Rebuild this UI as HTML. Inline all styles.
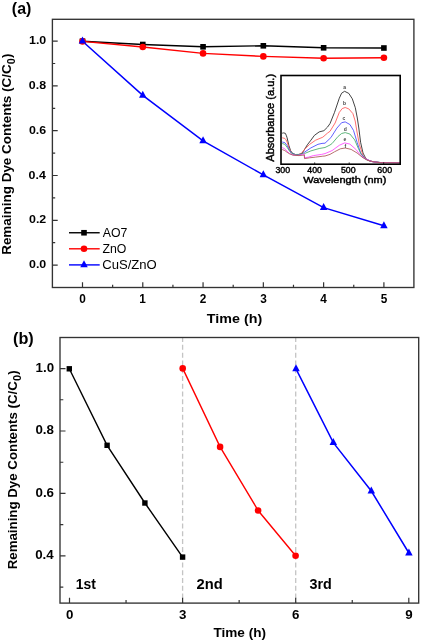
<!DOCTYPE html>
<html><head><meta charset="utf-8"><title>Figure</title><style>
html,body{margin:0;padding:0;background:#fff;}
body{width:421px;height:643px;overflow:hidden;}
svg{display:block;will-change:transform;}
text{font-family:"Liberation Sans",sans-serif;fill:#000;}
.pl{font-size:15px;font-weight:bold;}
.ta{font-size:11.6px;font-weight:bold;}
.tb{font-size:12.6px;font-weight:bold;}
.at{font-size:13.8px;font-weight:bold;}
.sub{font-size:9.5px;}
.lg{font-size:12.3px;}
.cy{font-size:14.6px;font-weight:bold;}
.it{font-size:9px;stroke:#000;stroke-width:0.4px;}
.ia{font-size:10.2px;fill:#000;stroke:#000;stroke-width:0.45px;}
.cl{font-size:5px;font-weight:bold;fill:#444;}
</style></head>
<body><svg width="421" height="643" viewBox="0 0 421 643">
<text transform="translate(11.85,13.6) scale(1.0115,1)" class="pl" style="font-size:15.80px">(a)</text>
<rect x="52.4" y="19.3" width="361.5" height="268.2" fill="none" stroke="#333" stroke-width="1.35"/>
<path d="M82.5 287.5V282.2M142.78 287.5V282.2M203.06 287.5V282.2M263.34 287.5V282.2M323.62 287.5V282.2M383.9 287.5V282.2M112.64 287.5V284.7M172.92 287.5V284.7M233.2 287.5V284.7M293.48 287.5V284.7M353.76 287.5V284.7M52.4 265.1H57.7M52.4 220.3H57.7M52.4 175.5H57.7M52.4 130.7H57.7M52.4 85.9H57.7M52.4 41.1H57.7M52.4 242.7H55.2M52.4 197.9H55.2M52.4 153.1H55.2M52.4 108.3H55.2M52.4 63.5H55.2" stroke="#333" stroke-width="1.2" fill="none"/>
<text transform="translate(28.99,268.25) scale(1.0700,1)" class="ta" style="font-size:11.60px">0.0</text>
<text transform="translate(28.99,223.45) scale(1.0700,1)" class="ta" style="font-size:11.60px">0.2</text>
<text transform="translate(28.56,178.65) scale(1.0700,1)" class="ta" style="font-size:11.60px">0.4</text>
<text transform="translate(28.93,133.85) scale(1.0700,1)" class="ta" style="font-size:11.60px">0.6</text>
<text transform="translate(28.87,89.05) scale(1.0700,1)" class="ta" style="font-size:11.60px">0.8</text>
<text transform="translate(28.99,44.25) scale(1.0700,1)" class="ta" style="font-size:11.60px">1.0</text>
<text transform="translate(79.27,302.55) scale(0.9700,1)" class="ta" style="font-size:12.20px">0</text>
<text transform="translate(139.34,302.55) scale(0.9700,1)" class="ta" style="font-size:12.20px">1</text>
<text transform="translate(199.86,302.55) scale(0.9700,1)" class="ta" style="font-size:12.20px">2</text>
<text transform="translate(260.17,302.55) scale(0.9700,1)" class="ta" style="font-size:12.20px">3</text>
<text transform="translate(320.33,302.55) scale(0.9700,1)" class="ta" style="font-size:12.20px">4</text>
<text transform="translate(380.64,302.55) scale(0.9700,1)" class="ta" style="font-size:12.20px">5</text>
<text transform="translate(206.81,323.28) scale(1.1239,1)" class="at" style="font-size:12.73px">Time (h)</text>
<g transform="translate(11.1,254.82) rotate(-90) scale(1.0434,1)" class="at"><text x="0" y="0" style="font-size:12.90px">Remaining Dye Contents (C/C</text><text x="182.77" y="3.9" style="font-size:10.40px">0</text><text x="188.55" y="0" style="font-size:12.90px">)</text></g>
<polyline points="82.5,41.2 142.78,44.5 203.06,46.8 263.34,45.8 323.62,47.8 383.9,48" fill="none" stroke="#000" stroke-width="1.4"/>
<polyline points="82.5,41.4 142.78,47 203.06,53.4 263.34,56.4 323.62,58.2 383.9,57.7" fill="none" stroke="#f00" stroke-width="1.4"/>
<polyline points="82.5,41.2 142.78,95.4 203.06,140.8 263.34,174.9 323.62,207.6 383.9,225.8" fill="none" stroke="#00f" stroke-width="1.5"/>
<rect x="79.7" y="38.4" width="5.6" height="5.6" fill="#000"/>
<rect x="139.98" y="41.7" width="5.6" height="5.6" fill="#000"/>
<rect x="200.26" y="44" width="5.6" height="5.6" fill="#000"/>
<rect x="260.54" y="43" width="5.6" height="5.6" fill="#000"/>
<rect x="320.82" y="45" width="5.6" height="5.6" fill="#000"/>
<rect x="381.1" y="45.2" width="5.6" height="5.6" fill="#000"/>
<circle cx="82.5" cy="41.4" r="3.3" fill="#f00"/>
<circle cx="142.78" cy="47" r="3.3" fill="#f00"/>
<circle cx="203.06" cy="53.4" r="3.3" fill="#f00"/>
<circle cx="263.34" cy="56.4" r="3.3" fill="#f00"/>
<circle cx="323.62" cy="58.2" r="3.3" fill="#f00"/>
<circle cx="383.9" cy="57.7" r="3.3" fill="#f00"/>
<polygon points="82.5,36.6 86.25,43.6 78.75,43.6" fill="#00f"/>
<polygon points="142.78,90.8 146.53,97.8 139.03,97.8" fill="#00f"/>
<polygon points="203.06,136.2 206.81,143.2 199.31,143.2" fill="#00f"/>
<polygon points="263.34,170.3 267.09,177.3 259.59,177.3" fill="#00f"/>
<polygon points="323.62,203 327.37,210 319.87,210" fill="#00f"/>
<polygon points="383.9,221.2 387.65,228.2 380.15,228.2" fill="#00f"/>
<path d="M69 232.75H99.7" stroke="#000" stroke-width="1.4"/>
<rect x="81.2" y="229.95" width="5.6" height="5.6" fill="#000"/>
<text transform="translate(102.79,236.6) scale(0.9550,1)" class="lg" style="font-size:12.90px">AO7</text>
<path d="M69 248.8H99.7" stroke="#f00" stroke-width="1.4"/>
<circle cx="84" cy="248.8" r="3.3" fill="#f00"/>
<text transform="translate(102.48,252.7) scale(0.9550,1)" class="lg" style="font-size:12.90px">ZnO</text>
<path d="M69 264.9H99.7" stroke="#00f" stroke-width="1.4"/>
<polygon points="84,260.3 87.75,267.3 80.25,267.3" fill="#00f"/>
<text transform="translate(102.2,268.8) scale(1.0150,1)" class="lg" style="font-size:12.90px">CuS/ZnO</text>
<polyline points="282.2,133.2 283.5,132.9 285.3,133.3 286.2,135.2 287.1,137.8 288.9,145.5 290.7,150.9 293.1,153.8 295.5,154.5 297.8,154.7 300,154.3 302,153.3 303.8,150.6 305.5,147.8 307.3,144.9 310.9,140.2 314.4,135.4 319.2,131.9 323.9,130.7 327.5,127.1 330,123.6 334.5,112.4 339.3,98.2 341.6,93.2 344.6,91.3 348.8,93.4 352.3,98.8 355.3,107.7 357.3,118 358.8,128 360.6,142.3 363,153 366,158.9 369,160.8 373,161.8 380,162.5 399.5,162.6" fill="none" stroke="#222" stroke-width="0.85"/>
<polyline points="282.2,137.8 284.8,138.4 286,139.8 287.1,142 288.9,147.9 291.3,152.7 293.5,154.2 295.4,154.7 298.5,154.6 301.4,153.3 303,151.5 304.3,149.7 309.7,144.3 315.6,140.2 322.8,137.2 327.5,133.1 330,131.3 335.1,123 339.3,112.4 342.2,108.6 345.2,107.5 348.8,108.9 352.9,113.6 355.2,121 357,132 359.4,144.7 363,155.4 366.5,159.5 372,161.5 380,162.5 399.5,162.6" fill="none" stroke="#f55" stroke-width="0.85"/>
<polyline points="282.2,142 284.8,142.6 287.1,145.5 289.5,150.3 291.9,153.3 295.4,154.7 298.5,154.7 301.4,154.2 304.3,152.3 310.9,147.9 318,144.3 322,143.4 325,143.2 330.9,137.6 336.9,128.1 341.6,122.7 345.2,121.9 349.9,124.5 353.5,130.4 357.1,142.3 360.6,153 365.4,158.9 372,161.5 380,162.5 399.5,162.6" fill="none" stroke="#44f" stroke-width="0.85"/>
<polyline points="282.2,143.5 284.8,144.3 287.1,147.3 289.5,151.1 291.9,153.6 295.4,154.5 298.5,154.4 301.4,153.8 304.3,153 304.6,153.5 310.9,150.9 319.2,148.5 325,147.5 330,145 332.1,143.5 338.1,136.4 341.6,133.5 345.2,132.6 349.9,134 354.7,139.9 358.3,148.3 361.8,155.4 366,159.5 372,161.5 380,162.5 399.5,162.6" fill="none" stroke="#4a6" stroke-width="0.85"/>
<polyline points="282.2,147.6 284.2,148.5 287.1,151.1 289.5,153.5 293.1,155 297.8,155.4 302.6,154.4 304.3,153.8 304.5,157.8 308.5,157.1 313.3,155.6 321.6,154.4 325,153.6 332.1,150.6 339.3,145.3 344.6,142.9 349.9,144.1 355.9,149.4 360.6,155.4 365.4,158.9 372,161.6 380,162.6 399.5,162.7" fill="none" stroke="#f4f" stroke-width="0.85"/>
<polyline points="282.2,149.5 284.8,150.6 287.1,152.3 289.5,153.8 293.1,155.2 299,155.6 304.3,155 304.5,158.6 309.7,157.8 315.6,157.1 322.8,156.2 325,156 330,154.4 334.5,151.8 340.4,148.8 345.2,148 351.1,149.4 357.1,153 363,157.8 368,160.5 374,161.8 380,162.7 399.5,162.8" fill="none" stroke="#a55" stroke-width="0.85"/>
<rect x="281.0" y="75.5" width="119.2" height="88.7" fill="none" stroke="#000" stroke-width="1.6"/>
<path d="M314.7 164.2V162.4" stroke="#000" stroke-width="0.8"/>
<path d="M349.2 164.2V162.4" stroke="#000" stroke-width="0.8"/>
<path d="M383.7 164.2V162.4" stroke="#000" stroke-width="0.8"/>
<text x="344.6" y="89.2" class="cl" text-anchor="middle">a</text>
<text x="344.6" y="105.1" class="cl" text-anchor="middle">b</text>
<text x="344" y="120.2" class="cl" text-anchor="middle">c</text>
<text x="345.2" y="130.6" class="cl" text-anchor="middle">d</text>
<text x="345" y="141.2" class="cl" text-anchor="middle">e</text>
<text x="345.4" y="148" class="cl" text-anchor="middle">f</text>
<text transform="translate(275.43,172.57) scale(1.0754,1)" class="it" style="font-size:8.17px">300</text>
<text transform="translate(307.32,172.57) scale(1.0688,1)" class="it" style="font-size:8.17px">400</text>
<text transform="translate(340.89,172.57) scale(1.0788,1)" class="it" style="font-size:8.17px">500</text>
<text transform="translate(377.34,172.57) scale(1.0822,1)" class="it" style="font-size:8.17px">600</text>
<text transform="translate(303.3,183) scale(1.1550,1)" class="ia" style="font-size:9.50px">Wavelength (nm)</text>
<text transform="translate(273.65,161.71) rotate(-90) scale(1.0544,1)" class="ia" style="font-size:10.50px">Absorbance (a.u.)</text>
<text transform="translate(13.04,343.7) scale(1.0288,1)" class="pl" style="font-size:15.80px">(b)</text>
<path d="M182.6 337.1V603.1" stroke="#c4c4c4" stroke-width="1.3" stroke-dasharray="5,2.77"/>
<path d="M295.7 337.1V603.1" stroke="#c4c4c4" stroke-width="1.3" stroke-dasharray="5,2.77"/>
<rect x="60.0" y="337.5" width="358.7" height="265.6" fill="none" stroke="#333" stroke-width="1.35"/>
<path d="M69.5 603.1V597.8M182.6 603.1V597.8M295.7 603.1V597.8M408.8 603.1V597.8M126.05 603.1V600.1M239.15 603.1V600.1M352.25 603.1V600.1M60 555.9H65.5M60 493.45H65.5M60 431H65.5M60 368.55H65.5M60 587.12H63.3M60 524.67H63.3M60 462.23H63.3M60 399.77H63.3" stroke="#333" stroke-width="1.2" fill="none"/>
<text transform="translate(35.13,559.35) scale(1.0000,1)" class="tb" style="font-size:13.30px">0.4</text>
<text transform="translate(35.53,496.9) scale(1.0000,1)" class="tb" style="font-size:13.30px">0.6</text>
<text transform="translate(35.46,434.45) scale(1.0000,1)" class="tb" style="font-size:13.30px">0.8</text>
<text transform="translate(35.59,372) scale(1.0000,1)" class="tb" style="font-size:13.30px">1.0</text>
<text transform="translate(65.91,619.1) scale(1.0000,1)" class="tb" style="font-size:13.30px">0</text>
<text transform="translate(179.08,619.1) scale(1.0000,1)" class="tb" style="font-size:13.30px">3</text>
<text transform="translate(292.11,619.1) scale(1.0000,1)" class="tb" style="font-size:13.30px">6</text>
<text transform="translate(405.21,619.1) scale(1.0000,1)" class="tb" style="font-size:13.30px">9</text>
<text transform="translate(213.41,637.33) scale(1.0506,1)" class="at" style="font-size:12.94px">Time (h)</text>
<g transform="translate(17.05,569.31) rotate(-90) scale(1.0552,1)" class="at"><text x="0" y="0" style="font-size:12.60px">Remaining Dye Contents (C/C</text><text x="178.52" y="3.55" style="font-size:10.40px">0</text><text x="184.3" y="0" style="font-size:12.60px">)</text></g>
<text transform="translate(75.71,589.3) scale(0.9564,1)" class="cy" style="font-size:14.60px">1st</text>
<text transform="translate(196.54,589.3) scale(1.0070,1)" class="cy" style="font-size:14.60px">2nd</text>
<text transform="translate(309.49,589) scale(0.9818,1)" class="cy" style="font-size:14.60px">3rd</text>
<polyline points="69.3,368.8 107.1,445.3 144.9,503 182.6,557.1" fill="none" stroke="#000" stroke-width="1.4"/>
<polyline points="182.7,368.4 220.1,446.9 258.1,510.5 295.6,555.7" fill="none" stroke="#f00" stroke-width="1.4"/>
<polyline points="296,368.8 333.3,442.7 371.3,491 408.9,553" fill="none" stroke="#00f" stroke-width="1.5"/>
<rect x="66.6" y="366.1" width="5.4" height="5.4" fill="#000"/>
<rect x="104.4" y="442.6" width="5.4" height="5.4" fill="#000"/>
<rect x="142.2" y="500.3" width="5.4" height="5.4" fill="#000"/>
<rect x="179.9" y="554.4" width="5.4" height="5.4" fill="#000"/>
<circle cx="182.7" cy="368.4" r="3.3" fill="#f00"/>
<circle cx="220.1" cy="446.9" r="3.3" fill="#f00"/>
<circle cx="258.1" cy="510.5" r="3.3" fill="#f00"/>
<circle cx="295.6" cy="555.7" r="3.3" fill="#f00"/>
<polygon points="296,364.2 299.75,371.2 292.25,371.2" fill="#00f"/>
<polygon points="333.3,438.1 337.05,445.1 329.55,445.1" fill="#00f"/>
<polygon points="371.3,486.4 375.05,493.4 367.55,493.4" fill="#00f"/>
<polygon points="408.9,548.4 412.65,555.4 405.15,555.4" fill="#00f"/>
</svg></body></html>
